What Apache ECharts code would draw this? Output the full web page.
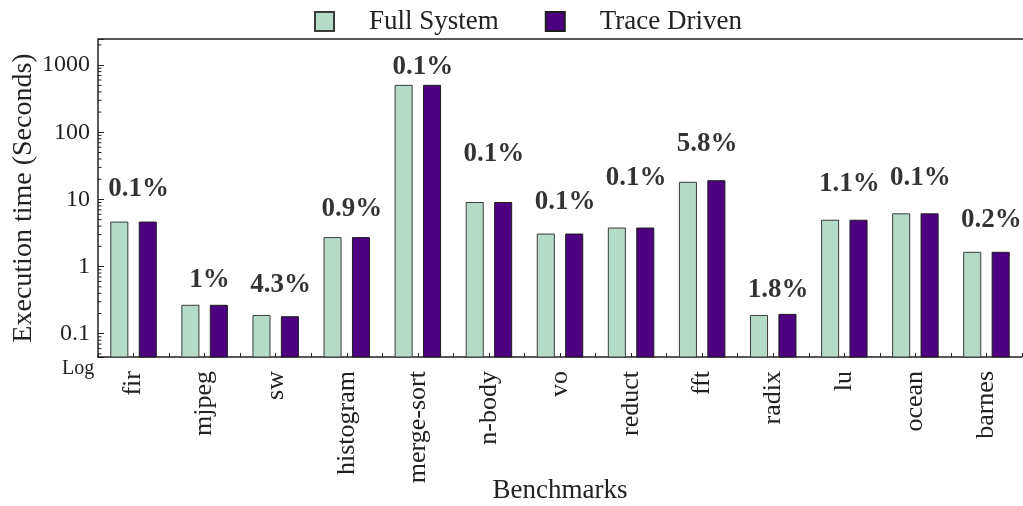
<!DOCTYPE html>
<html>
<head>
<meta charset="utf-8">
<script src="https://cdn.jsdelivr.net/npm/echarts@6/dist/echarts.min.js"></script>
<style>
  html, body { margin: 0; padding: 0; background: #fff; }
  #chart { width: 1023px; height: 506px; }
</style>
</head>
<body>
<div id="chart"></div>
<script>
// Benchmarks and measured execution times (seconds)
const benchmarks = ['fir', 'mjpeg', 'sw', 'histogram', 'merge-sort', 'n-body', 'vo',
                    'reduct', 'fft', 'radix', 'lu', 'ocean', 'barnes'];
const fullSystem  = [4.6, 0.265, 0.187, 2.7, 500, 9.0, 3.05, 3.75, 18.0, 0.187, 4.9, 6.1, 1.63];
const traceDriven = [4.6, 0.265, 0.179, 2.7, 500, 9.0, 3.05, 3.75, 19.0, 0.194, 4.9, 6.1, 1.63];
// Relative error of the trace-driven run, and the height (seconds) each note sits at
const errorText = ['0.1%', '1%', '4.3%', '0.9%', '0.1%', '0.1%', '0.1%', '0.1%', '5.8%', '1.8%', '1.1%', '0.1%', '0.2%'];
const noteAt    = [14.1, 0.64, 0.54, 7.1, 930, 47, 9.0, 21, 66, 0.45, 16.7, 21, 5.0];
// Log-axis tick values
const majorTicks = [0.1, 1, 10, 100, 1000];
const minorTicks = [0.05, 0.06, 0.07, 0.08, 0.09,
                    0.2, 0.3, 0.4, 0.5, 0.6, 0.7, 0.8, 0.9,
                    2, 3, 4, 5, 6, 7, 8, 9,
                    20, 30, 40, 50, 60, 70, 80, 90,
                    200, 300, 400, 500, 600, 700, 800, 900, 2000];

const serif = '"Liberation Serif", "DejaVu Serif", serif';
const ink = '#222';

const chart = echarts.init(document.getElementById('chart'), null, { renderer: 'canvas' });

// Bars drawn from the axis floor up to the value, side by side within each category
function barRenderer(shift, fill, stroke) {
  return (params, api) => {
    const cs = params.coordSys;
    const band = api.size([1, 0])[0];
    const w = band * 0.24;
    const top = api.coord([api.value(0), api.value(1)]);
    const cx = top[0] + band * shift;
    const floor = cs.y + cs.height;
    return {
      type: 'rect',
      shape: { x: cx - w / 2, y: top[1], width: w, height: floor - top[1] },
      style: { fill: fill, stroke: stroke, lineWidth: 1 }
    };
  };
}

const option = {
  animation: false,
  backgroundColor: '#fff',
  textStyle: { fontFamily: serif, color: ink },
  legend: {
    top: 3,
    left: 309,
    itemWidth: 19,
    itemHeight: 19,
    itemGap: 46,
    data: [
      { name: 'Full System', icon: 'rect' },
      { name: 'Trace Driven', icon: 'rect' }
    ],
    textStyle: { fontFamily: serif, fontSize: 27, color: ink, padding: [0, 0, 0, 30] }
  },
  grid: { left: 98, right: 1, top: 39, bottom: 149, containLabel: false, outerBoundsMode: 'none' },
  xAxis: [
    {
      type: 'category',
      data: benchmarks,
      name: 'Benchmarks',
      nameLocation: 'middle',
      nameGap: 120,
      nameMoveOverlap: false,
      nameTextStyle: { fontFamily: serif, fontSize: 27, color: ink },
      axisLine: { lineStyle: { color: ink, width: 1.5 } },
      axisTick: { show: true, inside: true, length: 4, alignWithLabel: false, lineStyle: { color: ink } },
      axisLabel: { rotate: 90, fontFamily: serif, fontSize: 26, color: ink, margin: 14 },
      splitLine: { show: false }
    },
    {
      type: 'category',
      data: benchmarks,
      position: 'bottom',
      axisLine: { show: false },
      axisTick: { show: true, inside: true, length: 4, alignWithLabel: true, lineStyle: { color: ink } },
      axisLabel: { show: false },
      splitLine: { show: false }
    }
  ],
  yAxis: {
    type: 'log',
    logBase: 10,
    min: 0.045,
    max: 2450,
    name: 'Execution time (Seconds)',
    nameLocation: 'middle',
    nameGap: 60,
    nameMoveOverlap: false,
    nameTextStyle: { fontFamily: serif, fontSize: 28, color: ink },
    axisLine: { show: true, lineStyle: { color: ink, width: 1.5 } },
    axisTick: { show: true, inside: true, length: 6, lineStyle: { color: ink } },
    axisLabel: {
      fontFamily: serif, fontSize: 24, color: ink, margin: 8,
      formatter: v => (majorTicks.indexOf(+v) >= 0 ? String(+v) : '')
    },
    splitLine: { show: false }
  },
  graphic: [
    { type: 'text', left: 62, top: 359, style: { text: 'Log', font: '20px ' + serif, fill: ink } },
    { type: 'line', shape: { x1: 98, y1: 39, x2: 1023, y2: 39 }, style: { stroke: ink, lineWidth: 1.5 } }
  ],
  series: [
    {
      name: 'Full System',
      type: 'custom',
      data: fullSystem.map((v, i) => [i, v]),
      encode: { x: 0, y: 1 },
      clip: false,
      itemStyle: { color: '#b4dac8', borderColor: '#3a3a3a', borderWidth: 1 },
      renderItem: barRenderer(-0.2, '#b4dac8', '#3a3a3a')
    },
    {
      name: 'Trace Driven',
      type: 'custom',
      data: traceDriven.map((v, i) => [i, v]),
      encode: { x: 0, y: 1 },
      clip: false,
      itemStyle: { color: '#4d0080', borderColor: '#1e1e1e', borderWidth: 1 },
      renderItem: barRenderer(0.2, '#4d0080', '#1e1e1e')
    },
    {
      name: 'notes',
      type: 'scatter',
      data: noteAt.map((v, i) => [i, v]),
      symbolSize: 0,
      itemStyle: { color: '#000' },
      silent: true,
      label: {
        show: true,
        position: 'inside',
        offset: [5, 0],
        formatter: p => errorText[p.dataIndex],
        fontFamily: serif,
        fontWeight: 'bold',
        fontSize: 27,
        color: '#000',
        textBorderWidth: 0
      }
    },
    {
      name: 'minor ticks',
      type: 'custom',
      silent: true,
      clip: false,
      data: minorTicks.map(v => [0, v]),
      encode: { x: 0, y: 1 },
      renderItem: (params, api) => {
        const y = api.coord([0, api.value(1)])[1];
        const x0 = params.coordSys.x;
        return {
          type: 'line',
          shape: { x1: x0, y1: y, x2: x0 + 3.5, y2: y },
          style: { stroke: ink, lineWidth: 1 }
        };
      }
    }
  ]
};

chart.setOption(option);
</script>
</body>
</html>
